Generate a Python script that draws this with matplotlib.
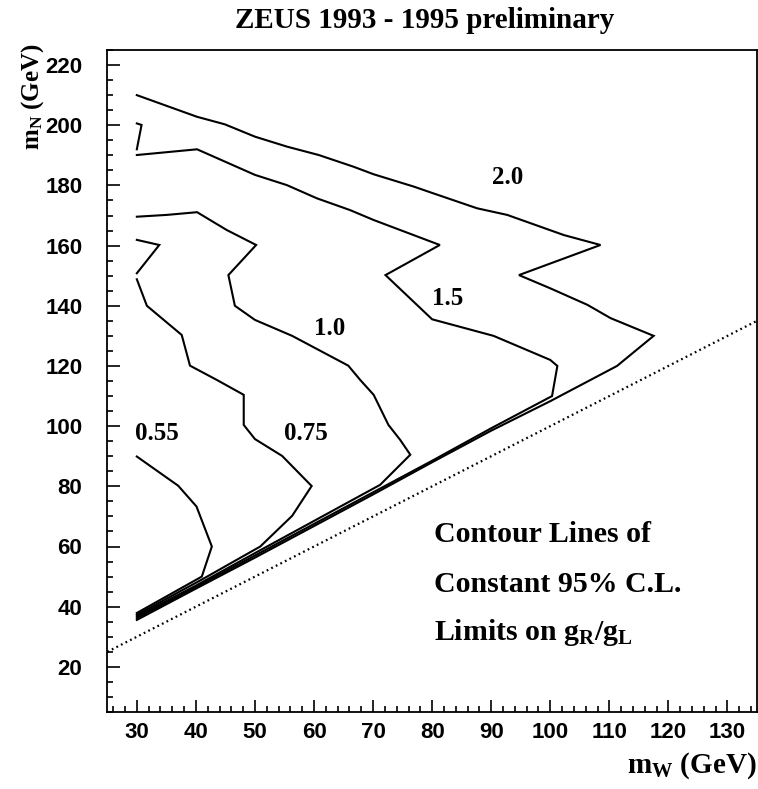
import matplotlib
matplotlib.use("Agg")
import matplotlib.pyplot as plt
from matplotlib.ticker import MultipleLocator

plt.rcParams["font.family"] = ["Liberation Serif", "DejaVu Serif"]
plt.rcParams["mathtext.fontset"] = "custom"
plt.rcParams["mathtext.rm"] = "Liberation Serif:bold"
plt.rcParams["mathtext.bf"] = "Liberation Serif:bold"
plt.rcParams["mathtext.it"] = "Liberation Serif:bold"

# Contour lines of constant 95% C.L. limits on gR/gL in the (mW, mN) plane
levels = ["0.55", "0.75", "1.0", "1.5", "2.0"]

c055_x = [30.0, 37.0, 40.1, 42.7, 41.0, 30.0]
c055_y = [89.9, 80.2, 73.3, 60.0, 50.0, 37.9]

c075a_x = [30.0, 33.8, 30.0]
c075a_y = [161.9, 160.2, 150.8]
c075_x = [30.0, 31.7, 37.6, 39.0, 43.5, 48.1, 48.1, 50.0, 54.6, 59.6, 56.3, 50.9, 41.0, 30.0]
c075_y = [148.8, 140.0, 130.3, 120.1, 115.4, 110.4, 100.4, 95.7, 90.1, 80.1, 70.2, 60.0, 49.0, 37.3]

c10_x = [30.0, 35.1, 40.2, 45.2, 50.2, 45.5, 46.6, 50.0, 56.3, 65.8, 67.8, 70.1, 72.6,
         74.6, 76.3, 71.2, 60.0, 50.0, 40.0, 30.0]
c10_y = [169.6, 170.2, 171.1, 165.2, 160.2, 150.2, 140.0, 135.3, 130.0, 120.1, 115.4, 110.4, 100.4,
         95.4, 90.5, 80.5, 68.5, 57.8, 47.0, 36.8]

c15_x = [30.0, 40.2, 50.0, 55.4, 60.5, 66.1, 70.1, 81.3, 72.1, 80.0, 90.4, 100.0, 101.2,
         100.3, 90.0, 80.0, 70.0, 60.0, 50.0, 40.0, 30.0]
c15_y = [190.1, 192.0, 183.5, 180.1, 175.7, 171.8, 168.5, 160.2, 150.2, 135.5, 130.0, 122.0, 120.0,
         110.0, 99.3, 88.5, 78.0, 67.5, 57.0, 46.5, 36.2]

c20a_x = [30.0, 30.8, 30.0]
c20a_y = [200.6, 200.1, 192.0]
c20_x = [30.0, 40.2, 44.9, 50.0, 55.4, 60.8, 66.7, 70.1, 76.9, 79.7, 87.6, 92.7, 102.3, 108.5,
         94.7, 100.0, 106.3, 110.2, 117.5, 111.3, 100.0, 90.0, 80.0, 70.0, 60.0, 50.0, 40.0, 30.0]
c20_y = [210.0, 202.8, 200.3, 196.2, 192.9, 190.1, 186.2, 183.7, 179.6, 177.7, 172.4, 170.2, 163.5, 160.2,
         150.2, 145.8, 140.3, 135.9, 130.0, 120.0, 108.3, 98.5, 88.0, 77.3, 66.8, 56.3, 46.0, 35.6]

# Level label positions (mW, mN)
label_x = [33.4, 58.7, 62.7, 82.7, 92.7]
label_y = [97.4, 97.4, 132.5, 142.5, 182.7]

# Kinematic line mN = mW
diag_x = [25, 135]
diag_y = [25, 135]

fig = plt.figure(figsize=(7.58, 7.89), dpi=100)
ax = fig.add_axes([107.3 / 758, 1 - 712 / 789, (757 - 107.3) / 758, (712 - 50) / 789])

curves = [(c055_x, c055_y), (c075a_x, c075a_y), (c075_x, c075_y), (c10_x, c10_y),
          (c15_x, c15_y), (c20a_x, c20a_y), (c20_x, c20_y)]
for cx, cy in curves:
    ax.plot(cx, cy, color="black", lw=1.5, solid_joinstyle="miter")

ax.plot(diag_x, diag_y, color="black", lw=1.6, linestyle=(0, (0.8, 1.5)))

for txt, lx, ly in zip(levels, label_x, label_y):
    ax.text(lx, ly, txt, ha="center", va="center", fontsize=18, fontweight="bold")

ax.text(80.25, 63.9, "Contour Lines of", ha="left", va="center", fontsize=21.5, fontweight="bold")
ax.text(80.25, 47.3, "Constant 95% C.L.", ha="left", va="center", fontsize=21.5, fontweight="bold")
ax.text(80.25, 31.3, r"Limits on g$_\mathbf{R}$/g$_\mathbf{L}$", ha="left", va="center",
        fontsize=21.5, fontweight="bold")

ax.set_xlim(25, 135)
ax.set_ylim(5, 225)

ax.xaxis.set_major_locator(MultipleLocator(10))
ax.xaxis.set_minor_locator(MultipleLocator(2))
ax.yaxis.set_major_locator(MultipleLocator(20))
ax.yaxis.set_minor_locator(MultipleLocator(5))
ax.tick_params(which="both", direction="in", top=False, right=False, width=1.2)
ax.tick_params(which="major", length=9)
ax.tick_params(which="minor", length=4.3)
ax.tick_params(axis="x", which="major", pad=7)
ax.tick_params(axis="y", which="major", pad=18)
for lab in ax.get_xticklabels() + ax.get_yticklabels():
    lab.set_fontfamily(["Liberation Sans", "DejaVu Sans"])
    lab.set_fontweight("bold")
    lab.set_fontsize(16)
for sp in ax.spines.values():
    sp.set_linewidth(1.3)

fig.text(757 / 758, 1 - 766 / 789, r"m$_\mathbf{W}$ (GeV)", ha="right", va="center",
         fontsize=21, fontweight="bold")
fig.text(33 / 758, 1 - 97 / 789, r"m$_\mathbf{N}$ (GeV)", ha="center", va="center",
         rotation=90, fontsize=18, fontweight="bold")
fig.text(425 / 758, 1 - 20 / 789, "ZEUS 1993 - 1995 preliminary", ha="center", va="center",
         fontsize=21, fontweight="bold")

fig.savefig("out.png", dpi=100)
